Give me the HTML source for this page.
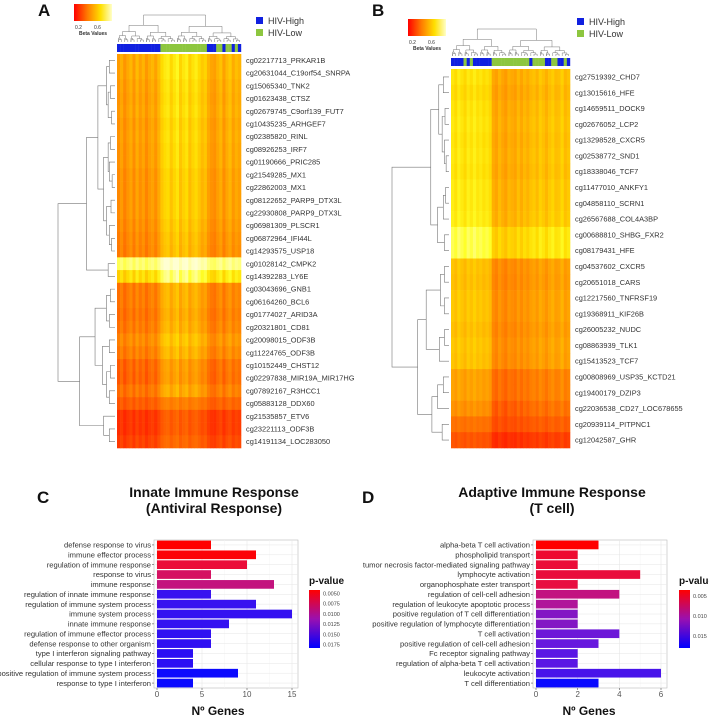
<!DOCTYPE html>
<html><head><meta charset="utf-8">
<style>
html,body{margin:0;padding:0;background:#fff;}
svg{display:block;font-family:"Liberation Sans",sans-serif;}
.lbl{font-size:7.4px;fill:#333;}
.cat{font-size:7.6px;fill:#333;}
.tick{font-size:8px;fill:#555;}
.ttl{font-size:14px;font-weight:bold;fill:#111;}
.pan{font-size:17px;font-weight:bold;fill:#111;}
</style></head>
<body>
<svg id="fig" width="709" height="717" viewBox="0 0 709 717" xmlns="http://www.w3.org/2000/svg">
<defs>
<linearGradient id="betaGrad" x1="0" x2="1" y1="0" y2="0">
<stop offset="0" stop-color="#ff0000"/><stop offset="0.35" stop-color="#ff7a00"/><stop offset="0.7" stop-color="#ffe000"/><stop offset="1" stop-color="#ffffc8"/>
</linearGradient>
<linearGradient id="pGrad" x1="0" x2="0" y1="0" y2="1">
<stop offset="0" stop-color="#ff0000"/><stop offset="0.5" stop-color="#9a10b0"/><stop offset="1" stop-color="#0000ff"/>
</linearGradient>
</defs>

<text class="pan" x="38" y="16">A</text>
<text class="pan" x="372" y="16">B</text>
<text class="pan" x="37" y="503">C</text>
<text class="pan" x="362" y="503">D</text>

<g>
<rect x="74" y="4" width="38" height="17" fill="url(#betaGrad)"/>
<text x="75" y="29" style="font-size:5px" fill="#333">0.2</text>
<text x="94" y="29" style="font-size:5px" fill="#333">0.6</text>
<text x="79" y="35" style="font-size:5px;font-weight:bold" fill="#333">Beta Values</text>
</g>
<g>
<rect x="408" y="19" width="38" height="17" fill="url(#betaGrad)"/>
<text x="409" y="44" style="font-size:5px" fill="#333">0.2</text>
<text x="428" y="44" style="font-size:5px" fill="#333">0.6</text>
<text x="413" y="50" style="font-size:5px;font-weight:bold" fill="#333">Beta Values</text>
</g>

<g>
<rect x="256" y="17" width="7" height="7" fill="#1020e0"/><text x="268" y="24" style="font-size:9px" fill="#333">HIV-High</text>
<rect x="256" y="29" width="7" height="7" fill="#8dc63f"/><text x="268" y="36" style="font-size:9px" fill="#333">HIV-Low</text>
</g>
<g>
<rect x="577" y="18" width="7" height="7" fill="#1020e0"/><text x="589" y="25" style="font-size:9px" fill="#333">HIV-High</text>
<rect x="577" y="30" width="7" height="7" fill="#8dc63f"/><text x="589" y="37" style="font-size:9px" fill="#333">HIV-Low</text>
</g>

<g id="heatA"></g>
<g id="heatB"></g>

<text class="ttl" x="214" y="497" text-anchor="middle">Innate Immune Response</text>
<text class="ttl" x="214" y="513" text-anchor="middle">(Antiviral Response)</text>
<text class="ttl" x="552" y="497" text-anchor="middle">Adaptive Immune Response</text>
<text class="ttl" x="552" y="513" text-anchor="middle">(T cell)</text>

<g id="barC"></g>
<g id="barD"></g>
</svg>

<script>
const rowLabelsA = ["cg02217713_PRKAR1B","cg20631044_C19orf54_SNRPA","cg15065340_TNK2","cg01623438_CTSZ","cg02679745_C9orf139_FUT7","cg10435235_ARHGEF7","cg02385820_RINL","cg08926253_IRF7","cg01190666_PRIC285","cg21549285_MX1","cg22862003_MX1","cg08122652_PARP9_DTX3L","cg22930808_PARP9_DTX3L","cg06981309_PLSCR1","cg06872964_IFI44L","cg14293575_USP18","cg01028142_CMPK2","cg14392283_LY6E","cg03043696_GNB1","cg06164260_BCL6","cg01774027_ARID3A","cg20321801_CD81","cg20098015_ODF3B","cg11224765_ODF3B","cg10152449_CHST12","cg02297838_MIR19A_MIR17HG","cg07892167_R3HCC1","cg05883128_DDX60","cg21535857_ETV6","cg23221113_ODF3B","cg14191134_LOC283050"];
const rowMeansA = [0.64,0.64,0.62,0.61,0.62,0.6,0.61,0.6,0.6,0.58,0.58,0.58,0.58,0.56,0.54,0.53,0.9,0.78,0.5,0.5,0.48,0.5,0.55,0.51,0.44,0.43,0.48,0.38,0.28,0.28,0.31];
const colGroupsA = ["H","H","H","H","H","H","H","H","H","H","H","H","H","H","L","L","L","L","L","L","L","L","L","L","L","L","L","L","L","H","H","H","L","L","H","L","L","H","L","H"];
const colEffectA = [-0.12,-0.06,-0.14,-0.08,-0.04,-0.12,-0.03,-0.1,-0.05,-0.13,-0.07,-0.04,-0.1,-0.02,0.06,0.1,0.12,0.05,0.1,0.14,0.04,0.09,0.12,0.03,0.08,0.11,0.06,0.01,0.04,-0.05,-0.09,-0.11,-0.05,-0.01,-0.1,-0.03,0.01,-0.07,-0.02,-0.05];
const rowTreeA = [1.0,
  [0.5,[0.3,[0.15,[0.1,0,1],[0.12,[0.08,2,3],[0.06,4,5]]],[0.2,[0.12,[0.08,6,7],[0.1,8,[0.05,9,10]]],[0.15,[0.07,11,12],[0.1,13,[0.06,14,15]]]]],[0.12,16,17]],
  [0.62,[0.35,[0.15,[0.08,18,19],[0.1,20,21]],[0.22,[0.1,22,23],[0.15,[0.08,24,25],[0.1,26,27]]]],[0.2,28,[0.1,29,30]]]];

const rowLabelsB = ["cg27519392_CHD7","cg13015616_HFE","cg14659511_DOCK9","cg02676052_LCP2","cg13298528_CXCR5","cg02538772_SND1","cg18338046_TCF7","cg11477010_ANKFY1","cg04858110_SCRN1","cg26567688_COL4A3BP","cg00688810_SHBG_FXR2","cg08179431_HFE","cg04537602_CXCR5","cg20651018_CARS","cg12217560_TNFRSF19","cg19368911_KIF26B","cg26005232_NUDC","cg08863939_TLK1","cg15413523_TCF7","cg00808969_USP35_KCTD21","cg19400179_DZIP3","cg22036538_CD27_LOC678655","cg20939114_PITPNC1","cg12042587_GHR"];
const rowMeansB = [0.65,0.63,0.65,0.66,0.65,0.66,0.65,0.67,0.67,0.68,0.76,0.76,0.56,0.55,0.57,0.57,0.55,0.57,0.56,0.47,0.47,0.42,0.35,0.27];
const colGroupsB = ["H","H","H","H","L","H","L","H","H","H","H","H","H","L","L","L","L","L","L","L","L","L","L","L","L","H","L","L","L","L","H","H","L","L","H","H","L","H"];
const colEffectB = [0.08,0.05,0.1,0.07,0.04,0.09,0.06,0.1,0.06,0.08,0.05,0.07,0.04,-0.09,-0.12,-0.06,-0.1,-0.13,-0.07,-0.09,-0.11,-0.05,-0.1,-0.05,-0.08,-0.04,-0.02,-0.06,0.0,-0.03,-0.07,-0.02,0.01,-0.04,-0.03,0.02,-0.05,-0.02];
const rowTreeB = [1.0,
  [0.32,[0.18,[0.1,0,1],[0.12,[0.07,2,3],[0.08,4,[0.05,5,6]]]],[0.2,[0.1,[0.06,7,8],9],[0.08,10,11]]],
  [0.55,[0.4,[0.15,[0.08,12,13],[0.08,14,15]],[0.17,[0.08,16,17],18]],[0.3,[0.2,[0.1,19,20],21],[0.12,22,23]]]];

const categoriesC = ["defense response to virus","immune effector process","regulation of immune response","response to virus","immune response","regulation of innate immune response","regulation of immune system process","immune system process","innate immune response","regulation of immune effector process","defense response to other organism","type I interferon signaling pathway","cellular response to type I interferon","positive regulation of immune system process","response to type I interferon"];
const valuesC = [6,11,10,6,13,6,11,15,8,6,6,4,4,9,4];
const pvaluesC = [0.0042,0.0045,0.0065,0.008,0.009,0.0158,0.0158,0.016,0.016,0.0162,0.0162,0.0165,0.0165,0.0182,0.0183];
const ticksC = [0,5,10,15];
const legendTicksC = ["0.0050","0.0075","0.0100","0.0125","0.0150","0.0175"];
const legendValsC = [0.005,0.0075,0.01,0.0125,0.015,0.0175];

const categoriesD = ["alpha-beta T cell activation","phospholipid transport","tumor necrosis factor-mediated signaling pathway","lymphocyte activation","organophosphate ester transport","regulation of cell-cell adhesion","regulation of leukocyte apoptotic process","positive regulation of T cell differentiation","positive regulation of lymphocyte differentiation","T cell activation","positive regulation of cell-cell adhesion","Fc receptor signaling pathway","regulation of alpha-beta T cell activation","leukocyte activation","T cell differentiation"];
const valuesD = [3,2,2,5,2,4,2,2,2,4,3,2,2,6,3];
const pvaluesD = [0.0035,0.0055,0.0058,0.006,0.0062,0.0085,0.0095,0.0115,0.0115,0.0125,0.0128,0.0135,0.0135,0.0145,0.018];
const ticksD = [0,2,4,6];
const legendTicksD = ["0.005","0.010","0.015"];
const legendValsD = [0.005,0.01,0.015];

const NS = "http://www.w3.org/2000/svg";
function mk(tag, attrs, parent){const e=document.createElementNS(NS,tag);for(const k in attrs)e.setAttribute(k,attrs[k]);parent.appendChild(e);return e;}

function betaColor(v){
  const st=[[0.1,[255,0,0]],[0.35,[255,100,0]],[0.55,[255,165,0]],[0.7,[255,220,0]],[0.8,[255,255,40]],[0.95,[255,255,210]]];
  if(v<=st[0][0])return "rgb(255,0,0)";
  for(let i=1;i<st.length;i++){if(v<=st[i][0]){const t=(v-st[i-1][0])/(st[i][0]-st[i-1][0]);const a=st[i-1][1],b=st[i][1];return `rgb(${Math.round(a[0]+(b[0]-a[0])*t)},${Math.round(a[1]+(b[1]-a[1])*t)},${Math.round(a[2]+(b[2]-a[2])*t)})`;}}
  return "rgb(255,255,210)";
}

function drawRowTree(g, tree, yOf, xLeaf, xRoot){
  function rec(n){
    if(typeof n==="number") return {y:yOf(n), x:xLeaf};
    const x = xLeaf - (xLeaf-xRoot)*n[0];
    const a=rec(n[1]), b=rec(n[2]);
    const p=mk("path",{d:`M${a.x},${a.y}H${x}V${b.y}H${b.x}`,fill:"none",stroke:"#777","stroke-width":0.6},g);
    
    
    return {y:(a.y+b.y)/2, x:x};
  }
  rec(tree);
}
function drawColTree(g, lo, hi, xOf, yLeaf, yTop, h, depth){
  if(hi-lo<1) return {x:xOf(lo), y:yLeaf};
  const mid = Math.floor((lo+hi+ (depth%2))/2);
  const a = drawColTree(g, lo, Math.max(lo,mid-1), xOf, yLeaf, yTop, h*0.62, depth+1);
  const b = drawColTree(g, mid, hi, xOf, yLeaf, yTop, h*0.58, depth+1);
  const y = yLeaf-(yLeaf-yTop)*h;
  const p=mk("path",{d:`M${a.x},${a.y}V${y}H${b.x}V${b.y}`,fill:"none",stroke:"#777","stroke-width":0.5},g);
  
  
  return {x:(a.x+b.x)/2,y:y};
}

function heatmap(gid, labels, means, groups, effects, tree, box){
  const g=document.getElementById(gid);
  const nR=labels.length, nC=groups.length;
  const rh=(box.y1-box.y0)/nR, cw=(box.x1-box.x0)/nC;
  const yOf=r=>box.y0+(r+0.5)*rh, xOf=c=>box.x0+(c+0.5)*cw;
  for(let c=0;c<nC;c++){
    const a=mk("rect",{x:box.x0+c*cw,y:box.ay0,width:cw+0.2,height:box.ay1-box.ay0,fill:groups[c]==="H"?"#1020e0":"#8dc63f"},g);
    
    
  }
  for(let r=0;r<nR;r++){
    const scale = means[r]>0.8?0.5:(means[r]<0.4?0.6:1);
    for(let c=0;c<nC;c++){
      const v=means[r]+effects[c]*scale;
      const cell=mk("rect",{x:box.x0+c*cw,y:box.y0+r*rh,width:cw+0.3,height:rh+0.3,fill:betaColor(v)},g);
      
      
    }
    const t=mk("text",{x:box.x1+5,y:yOf(r)+2.6,class:"lbl"},g);
    t.textContent=labels[r];
    
    
  }
  drawRowTree(g, tree, yOf, box.x0-2, box.dx);
  drawColTree(g, 0, nC-1, xOf, box.ay0-2, box.dy, 1, 0);
}

heatmap("heatA", rowLabelsA, rowMeansA, colGroupsA, colEffectA, rowTreeA,
  {x0:117,x1:241,y0:54,y1:448,ay0:44,ay1:52,dx:58,dy:15});
heatmap("heatB", rowLabelsB, rowMeansB, colGroupsB, colEffectB, rowTreeB,
  {x0:451,x1:570,y0:69,y1:448,ay0:58,ay1:66,dx:392,dy:29});

function pColor(p, lo, hi){
  let t=(p-lo)/(hi-lo); t=Math.max(0,Math.min(1,t));
  const st=[[0,[255,0,0]],[0.2,[230,15,70]],[0.4,[180,20,150]],[0.65,[100,25,225]],[1,[10,10,255]]];
  for(let i=1;i<st.length;i++){if(t<=st[i][0]){const u=(t-st[i-1][0])/(st[i][0]-st[i-1][0]);const a=st[i-1][1],b=st[i][1];return `rgb(${Math.round(a[0]+(b[0]-a[0])*u)},${Math.round(a[1]+(b[1]-a[1])*u)},${Math.round(a[2]+(b[2]-a[2])*u)})`;}}
  return "rgb(10,10,255)";
}

function barChart(gid, cats, vals, pvals, ticks, legTicks, legVals, cfg){
  const g=document.getElementById(gid);
  const n=cats.length, band=(cfg.y1-cfg.y0)/n;
  const xS=v=>cfg.xa+(v/ticks[ticks.length-1])*(cfg.xb-cfg.xa);
  const yS=i=>cfg.y0+i*band;
  const bg=mk("rect",{x:cfg.x0,y:cfg.y0,width:cfg.x1-cfg.x0,height:cfg.y1-cfg.y0,fill:"#fff",stroke:"#bbb","stroke-width":0.6},g);
  
  
  for(let k=0;k<ticks.length;k++){
    const x=xS(ticks[k]);
    const gl=mk("line",{x1:x,x2:x,y1:cfg.y0,y2:cfg.y1,stroke:"#e6e6e6","stroke-width":0.6},g);
    
    
    if(k<ticks.length-1){const xm=xS((ticks[k]+ticks[k+1])/2);const gm=mk("line",{x1:xm,x2:xm,y1:cfg.y0,y2:cfg.y1,stroke:"#f2f2f2","stroke-width":0.4},g);
      
      }
    const tm=mk("line",{x1:x,x2:x,y1:cfg.y1,y2:cfg.y1+2,stroke:"#555","stroke-width":0.6},g);
    
    
    const tl=mk("text",{x:x,y:cfg.y1+9,class:"tick","text-anchor":"middle"},g);
    tl.textContent=ticks[k];
    
    
  }
  for(let i=0;i<n;i++){
    const cy=yS(i)+band/2;
    const gl=mk("line",{x1:cfg.x0,x2:cfg.x1,y1:cy,y2:cy,stroke:"#e6e6e6","stroke-width":0.5},g);
    
    
    const b=mk("rect",{x:xS(0),y:yS(i)+band*0.06,width:xS(vals[i])-xS(0),height:band*0.88,fill:pColor(pvals[i],cfg.plo,cfg.phi)},g);
    
    
    const tm=mk("line",{x1:cfg.x0-2,x2:cfg.x0,y1:cy,y2:cy,stroke:"#555","stroke-width":0.6},g);
    
    
    const t=mk("text",{x:cfg.x0-3,y:cy+2.7,class:"cat","text-anchor":"end"},g);
    t.textContent=cats[i];
    
    
  }
  const xt=mk("text",{x:cfg.xt,y:715,"text-anchor":"middle",style:"font-size:12px;font-weight:bold",fill:"#111"},g);
  xt.textContent="Nº Genes";
  
  
  const lt=mk("text",{x:cfg.lx,y:584,style:"font-size:10px;font-weight:bold",fill:"#111"},g);
  lt.textContent="p-value";
  
  
  const lb=mk("rect",{x:cfg.lx,y:590,width:11,height:58,fill:"url(#pGrad)"},g);
  
  
  for(let k=0;k<legTicks.length;k++){
    const y=590+(legVals[k]-cfg.plo)/(cfg.phi-cfg.plo)*58;
    const t=mk("text",{x:cfg.lx+14,y:y+2,style:"font-size:5.5px",fill:"#444"},g);
    t.textContent=legTicks[k];
    
    
  }
}

barChart("barC", categoriesC, valuesC, pvaluesC, ticksC, legendTicksC, legendValsC,
  {x0:154,x1:298,y0:540,y1:688,xa:157,xb:292,xt:218,lx:309,plo:0.0042,phi:0.0183});
barChart("barD", categoriesD, valuesD, pvaluesD, ticksD, legendTicksD, legendValsD,
  {x0:533,x1:667,y0:540,y1:688,xa:536,xb:661,xt:589,lx:679,plo:0.0035,phi:0.018});
</script>
</body></html>
